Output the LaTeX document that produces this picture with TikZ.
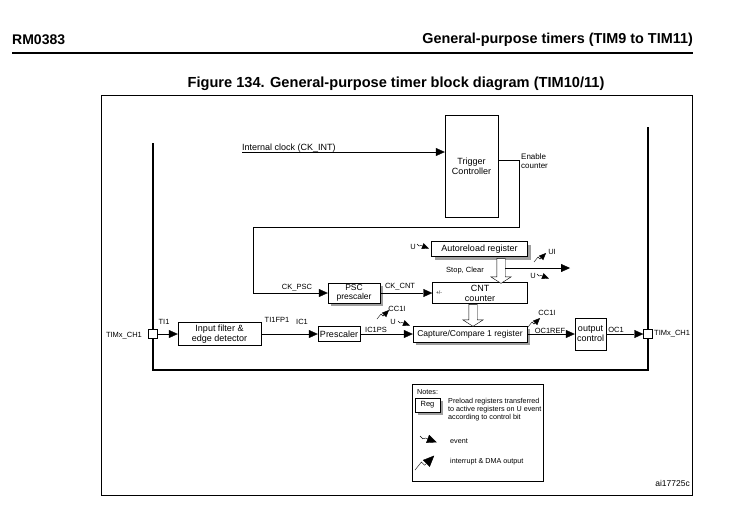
\documentclass[tikz,border=0pt]{standalone}
\usepackage{fontspec}
\setmainfont{Liberation Sans}
\usetikzlibrary{arrows.meta,shapes.arrows,shadows}

\tikzset{
  blk/.style={draw, fill=white, align=center, inner sep=0pt, font=\fontsize{9}{10}\selectfont},
  reg/.style={blk, drop shadow={shadow xshift=3pt, shadow yshift=-3pt, fill=gray!75, opacity=1}},
  lbl/.style={inner sep=0pt, font=\fontsize{7.5}{8.5}\selectfont},
  tiny/.style={inner sep=0pt, align=left, font=\fontsize{7.2}{8.2}\selectfont},
  pad/.style={draw, fill=white, minimum size=9pt, inner sep=0pt},
  fat/.style={line width=2.8pt},
  sig/.style={-{Triangle[length=9pt,width=8pt]}},
  hollow/.style={single arrow, draw, fill=white, inner xsep=0pt, inner ysep=4pt,
    single arrow head extend=6pt, single arrow tip angle=115, rotate=-90},
  evt/.pic={\draw[scale=#1, -{Triangle[length=7pt,width=6pt,scale=#1]}] (0,0) -- (2,2) -- (4,1.5) -- (12,4.5);},
  irq/.pic={\draw[scale=#1, -{Triangle[length=7pt,width=6pt,scale=#1]}] (0,0) -- (4,-5) -- (6,-3) -- (12,-9);},
}

\begin{document}
\begin{tikzpicture}[x=1pt, y=-1pt]
  \useasboundingbox (0,0) rectangle (736,525);

  % page head
  \node[anchor=west, inner sep=0pt, font=\bfseries\fontsize{14}{16}\selectfont] at (12,40) {RM0383};
  \node[anchor=east, inner sep=0pt, font=\bfseries\fontsize{14.4}{16}\selectfont] at (693,40) {General-purpose timers (TIM9 to TIM11)};
  \draw[line width=1.2pt] (12,53) -- (693,53);
  \node[inner sep=0pt, font=\bfseries\fontsize{14.6}{16}\selectfont] at (396,84) {Figure 134. General-purpose timer block diagram (TIM10/11)};

  \draw[line width=0.9pt] (101,95) rectangle (692,495);
  \draw[fat] (153,143) -- (153,370) -- (648,370) -- (648,127);

  % blocks
  \node[blk, minimum width=53pt, minimum height=102pt] (trig) at (471.5,166.5) {Trigger\\Controller};
  \node[reg, minimum width=96pt, minimum height=15pt] (arl) at (479.5,249) {Autoreload register};
  \node[blk, minimum width=95pt, minimum height=21pt] (cnt) at (480,293) {CNT\\counter};
  \node[reg, minimum width=52pt, minimum height=20pt, font=\fontsize{8.5}{9.5}\selectfont] (psc) at (354,293) {PSC\\prescaler};
  \node[blk, minimum width=83pt, minimum height=23pt] (filt) at (219.5,334) {Input filter \&\\edge detector};
  \node[blk, minimum width=42pt, minimum height=15pt] (pre) at (339,334) {Prescaler};
  \node[reg, minimum width=114pt, minimum height=16pt, font=\fontsize{8.5}{10}\selectfont] (ccr) at (470,334) {Capture/Compare 1 register};
  \node[blk, minimum width=31pt, minimum height=32pt] (outc) at (590.5,334) {output\\control};
  \node[pad] (chin) at (152.5,334) {};
  \node[pad] (chout) at (648,334) {};
  \node[hollow, minimum height=25pt] (ha1) at (501,269.5) {};
  \node[hollow, minimum height=22pt] (ha2) at (473,314) {};

  % connections
  \coordinate (clk) at (242,152);
  \coordinate (uibeg) at (505,268);
  \coordinate (uiend) at (570,268);
  \draw[sig] (clk) -- (clk -| trig.west);
  \draw[sig] ([yshift=6.5pt]trig.east) -- (519,160) -- (519,227) -- (253,227) -- (253,293) -- (psc.west);
  \draw[sig] (psc.east) -- (cnt.west);
  \draw[sig] (uibeg) -- (uiend);
  \draw[sig] (chin.east) -- (filt.west);
  \draw[sig] (filt.east) -- (pre.west);
  \draw[sig] (pre.east) -- (ccr.west);
  \draw[sig] (ccr.east) -- (outc.west);
  \draw[sig] (outc.east) -- (chout.west);

  % labels
  \node[lbl, anchor=base west, font=\fontsize{9}{10}\selectfont] at (242,150) {Internal clock (CK\_INT)};
  \node[lbl, anchor=north west, align=left, font=\fontsize{8}{9.5}\selectfont] at (521,153) {Enable\\counter};
  \node[lbl] at (297,288) {CK\_PSC};
  \node[lbl] at (400,287) {CK\_CNT};
  \node[inner sep=0pt, font=\fontsize{5}{6}\selectfont] at (439,293) {+/-};
  \node[lbl] at (465,271) {Stop, Clear};
  \node[lbl] at (413,247) {U};
  \node[lbl] at (552,252) {UI};
  \node[lbl] at (533,276) {U};
  \node[lbl] at (124,336) {TIMx\_CH1};
  \node[lbl] at (164,322) {TI1};
  \node[lbl] at (277,320) {TI1FP1};
  \node[lbl] at (302,322) {IC1};
  \node[lbl] at (376,330) {IC1PS};
  \node[lbl] at (397,309) {CC1I};
  \node[lbl] at (393,322) {U};
  \node[lbl] at (547,313) {CC1I};
  \node[lbl, anchor=base] at (550,333) {OC1REF};
  \node[lbl] at (616,330) {OC1};
  \node[lbl, anchor=west] at (654,334) {TIMx\_CH1};

  % event and interrupt marks
  \pic at (417,244) {evt=1};
  \pic at (534,262) {irq=1};
  \pic at (537,274) {evt=1};
  \pic at (377,319) {irq=1};
  \pic at (398,321) {evt=1};
  \pic at (528,327) {irq=1};

  % notes
  \node[draw, minimum width=131pt, minimum height=97pt] (notes) at (477.5,432.5) {};
  \node[tiny, anchor=west] at (417,392) {Notes:};
  \node[reg, minimum width=25pt, minimum height=14pt, font=\fontsize{7.5}{8}\selectfont] (regkey) at (427.5,405) {Reg};
  \node[tiny, anchor=north west] at (448,398) {Preload registers transferred\\to active registers on U event\\according to control bit};
  \pic at (420,436) {evt=1.4};
  \node[tiny, anchor=west] at (450,441) {event};
  \pic at (415,470) {irq=1.6};
  \node[tiny, anchor=west] at (450,462) {interrupt \& DMA output};
  \node[inner sep=0pt, anchor=east, font=\fontsize{8.5}{9}\selectfont] at (690,483) {ai17725c};
\end{tikzpicture}
\end{document}
